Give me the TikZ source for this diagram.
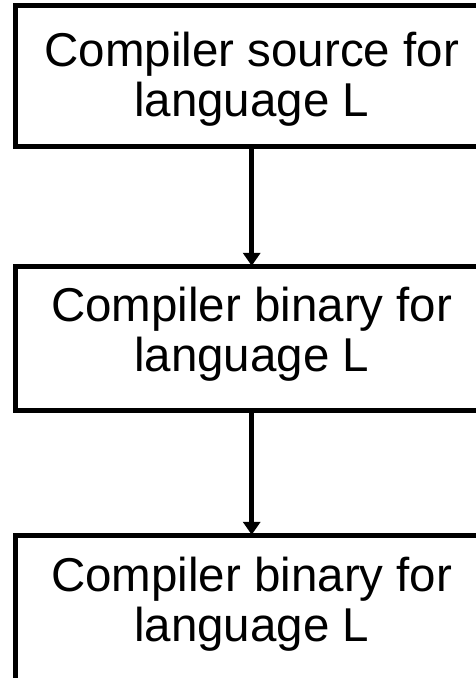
\documentclass[tikz,border=0pt]{standalone}
\usepackage{fontspec}
\setmainfont{Liberation Sans}
\usetikzlibrary{arrows.meta}
\begin{document}
\begin{tikzpicture}[x=1pt, y=-1pt,
  stagebox/.style={draw=black, line width=5pt, rectangle, inner sep=0pt,
    minimum width=473pt},
  stagetext/.style={anchor=base, align=center, inner sep=0pt,
    font=\fontsize{47.5pt}{50pt}\selectfont},
  flow/.style={line width=4.5pt, -{Triangle[length=13pt, width=17pt]}, shorten >=-2pt}]
  \useasboundingbox (0,0) rectangle (475,678);
  % stage boxes (they run past the right-hand edge)
  \node[stagebox, minimum height=141pt] (b1) at (251.7, 76.2) {};
  \node[stagebox, minimum height=143.7pt] (b2) at (251.7, 338.2) {};
  \node[stagebox, minimum height=146pt] (b3) at (251.7, 608.3) {};
  % captions, placed by the baseline of their last line
  \node[stagetext] (t1) at (251.7, 116.7) {Compiler source for\\language L};
  \node[stagetext] (t2) at (251.7, 371.7) {Compiler binary for\\language L};
  \node[stagetext] (t3) at (251.7, 641.7) {Compiler binary for\\language L};
  % flow between stages
  \draw[flow] (b1.south) -- (b2.north);
  \draw[flow] (b2.south) -- (b3.north);
\end{tikzpicture}
\end{document}
